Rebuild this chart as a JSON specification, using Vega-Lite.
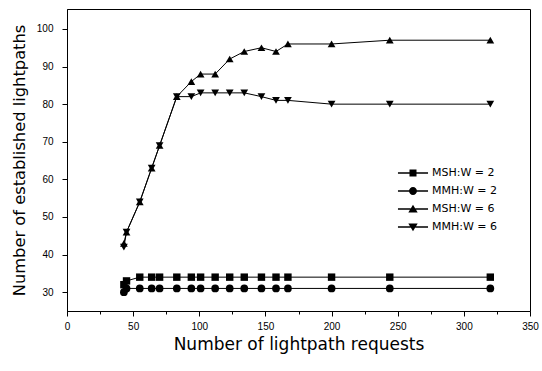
{
  "$schema": "https://vega.github.io/schema/vega-lite/v6.json",
  "width": 463,
  "height": 302,
  "autosize": {"type": "none"},
  "padding": {"left": 67, "top": 9, "right": 12, "bottom": 60},
  "background": "white",
  "config": {
    "view": {"stroke": "black", "strokeWidth": 1},
    "axis": {
      "domainColor": "black",
      "tickColor": "black",
      "labelColor": "black",
      "titleColor": "black",
      "grid": false,
      "labelFont": "Liberation Sans Narrow, Liberation Sans",
      "labelFontSize": 10,
      "titleFont": "DejaVu Sans",
      "titleFontSize": 16,
      "titleFontWeight": "normal"
    },
    "legend": {"labelFont": "DejaVu Sans", "labelFontSize": 11, "labelColor": "black"}
  },
  "data": {
    "values": [
      {"series": "MSH:W = 2", "x": 43, "y": 32}, {"series": "MSH:W = 2", "x": 45, "y": 33},
      {"series": "MSH:W = 2", "x": 55, "y": 34}, {"series": "MSH:W = 2", "x": 64, "y": 34},
      {"series": "MSH:W = 2", "x": 70, "y": 34}, {"series": "MSH:W = 2", "x": 83, "y": 34},
      {"series": "MSH:W = 2", "x": 94, "y": 34}, {"series": "MSH:W = 2", "x": 101, "y": 34},
      {"series": "MSH:W = 2", "x": 112, "y": 34}, {"series": "MSH:W = 2", "x": 123, "y": 34},
      {"series": "MSH:W = 2", "x": 134, "y": 34}, {"series": "MSH:W = 2", "x": 147, "y": 34},
      {"series": "MSH:W = 2", "x": 158, "y": 34}, {"series": "MSH:W = 2", "x": 167, "y": 34},
      {"series": "MSH:W = 2", "x": 200, "y": 34}, {"series": "MSH:W = 2", "x": 244, "y": 34},
      {"series": "MSH:W = 2", "x": 320, "y": 34},
      {"series": "MMH:W = 2", "x": 43, "y": 30}, {"series": "MMH:W = 2", "x": 45, "y": 31},
      {"series": "MMH:W = 2", "x": 55, "y": 31}, {"series": "MMH:W = 2", "x": 64, "y": 31},
      {"series": "MMH:W = 2", "x": 70, "y": 31}, {"series": "MMH:W = 2", "x": 83, "y": 31},
      {"series": "MMH:W = 2", "x": 94, "y": 31}, {"series": "MMH:W = 2", "x": 101, "y": 31},
      {"series": "MMH:W = 2", "x": 112, "y": 31}, {"series": "MMH:W = 2", "x": 123, "y": 31},
      {"series": "MMH:W = 2", "x": 134, "y": 31}, {"series": "MMH:W = 2", "x": 147, "y": 31},
      {"series": "MMH:W = 2", "x": 158, "y": 31}, {"series": "MMH:W = 2", "x": 167, "y": 31},
      {"series": "MMH:W = 2", "x": 200, "y": 31}, {"series": "MMH:W = 2", "x": 244, "y": 31},
      {"series": "MMH:W = 2", "x": 320, "y": 31},
      {"series": "MSH:W = 6", "x": 43, "y": 43}, {"series": "MSH:W = 6", "x": 45, "y": 46},
      {"series": "MSH:W = 6", "x": 55, "y": 54}, {"series": "MSH:W = 6", "x": 64, "y": 63},
      {"series": "MSH:W = 6", "x": 70, "y": 69}, {"series": "MSH:W = 6", "x": 83, "y": 82},
      {"series": "MSH:W = 6", "x": 94, "y": 86}, {"series": "MSH:W = 6", "x": 101, "y": 88},
      {"series": "MSH:W = 6", "x": 112, "y": 88}, {"series": "MSH:W = 6", "x": 123, "y": 92},
      {"series": "MSH:W = 6", "x": 134, "y": 94}, {"series": "MSH:W = 6", "x": 147, "y": 95},
      {"series": "MSH:W = 6", "x": 158, "y": 94}, {"series": "MSH:W = 6", "x": 167, "y": 96},
      {"series": "MSH:W = 6", "x": 200, "y": 96}, {"series": "MSH:W = 6", "x": 244, "y": 97},
      {"series": "MSH:W = 6", "x": 320, "y": 97},
      {"series": "MMH:W = 6", "x": 43, "y": 42}, {"series": "MMH:W = 6", "x": 45, "y": 46},
      {"series": "MMH:W = 6", "x": 55, "y": 54}, {"series": "MMH:W = 6", "x": 64, "y": 63},
      {"series": "MMH:W = 6", "x": 70, "y": 69}, {"series": "MMH:W = 6", "x": 83, "y": 82},
      {"series": "MMH:W = 6", "x": 94, "y": 82}, {"series": "MMH:W = 6", "x": 101, "y": 83},
      {"series": "MMH:W = 6", "x": 112, "y": 83}, {"series": "MMH:W = 6", "x": 123, "y": 83},
      {"series": "MMH:W = 6", "x": 134, "y": 83}, {"series": "MMH:W = 6", "x": 147, "y": 82},
      {"series": "MMH:W = 6", "x": 158, "y": 81}, {"series": "MMH:W = 6", "x": 167, "y": 81},
      {"series": "MMH:W = 6", "x": 200, "y": 80}, {"series": "MMH:W = 6", "x": 244, "y": 80},
      {"series": "MMH:W = 6", "x": 320, "y": 80}
    ]
  },
  "encoding": {
    "x": {
      "field": "x", "type": "quantitative",
      "scale": {"domain": [0, 350], "nice": false, "zero": false},
      "axis": {
        "title": "Number of lightpath requests",
        "titleFontSize": 17,
        "values": [0, 25, 50, 75, 100, 125, 150, 175, 200, 225, 250, 275, 300, 325, 350],
        "labelExpr": "datum.value % 50 === 0 ? datum.label : ''",
        "tickSize": {"condition": {"test": "datum.value % 50 === 0", "value": 5}, "value": 3},
        "labelPadding": 5,
        "titlePadding": 5,
        "labelFlush": false
      }
    },
    "y": {
      "field": "y", "type": "quantitative",
      "scale": {"domain": [25, 105.3], "nice": false, "zero": false}
    }
  },
  "layer": [
    {
      "mark": {"type": "line", "color": "black", "strokeWidth": 1},
      "encoding": {
        "detail": {"field": "series"},
        "y": {
          "field": "y", "type": "quantitative",
          "axis": {
            "title": "Number of established lightpaths",
            "titleFontSize": 16.3,
            "values": [30, 35, 40, 45, 50, 55, 60, 65, 70, 75, 80, 85, 90, 95, 100, 105],
            "labelExpr": "datum.value % 10 === 0 ? datum.label : ''",
            "tickSize": {"condition": {"test": "datum.value % 10 === 0", "value": 5}, "value": 3},
            "labelPadding": 9,
            "titlePadding": 9
          }
        }
      }
    },
    {
      "transform": [{"filter": "datum.series === 'MSH:W = 2'"}],
      "mark": {"type": "point", "shape": "square", "filled": true, "color": "black", "opacity": 1, "size": 55}
    },
    {
      "transform": [{"filter": "datum.series === 'MMH:W = 2'"}],
      "mark": {"type": "point", "shape": "circle", "filled": true, "color": "black", "opacity": 1, "size": 60}
    },
    {
      "transform": [{"filter": "datum.series === 'MSH:W = 6'"}],
      "mark": {"type": "point", "shape": "triangle-up", "filled": true, "color": "black", "opacity": 1, "size": 60}
    },
    {
      "transform": [{"filter": "datum.series === 'MMH:W = 6'"}],
      "mark": {"type": "point", "shape": "triangle-down", "filled": true, "color": "black", "opacity": 1, "size": 60}
    },
    {
      "mark": {"type": "point", "filled": true, "color": "black", "opacity": 0, "size": 324},
      "encoding": {
        "shape": {
          "field": "series", "type": "nominal",
          "scale": {
            "domain": ["MSH:W = 2", "MMH:W = 2", "MSH:W = 6", "MMH:W = 6"],
            "range": [
              "M-1.67,-0.07H-0.39V0.07H-1.67Z M0.39,-0.07H1.67V0.07H0.39Z M-0.39,-0.39H0.39V0.39H-0.39Z",
              "M-1.67,-0.07H-0.43V0.07H-1.67Z M0.43,-0.07H1.67V0.07H0.43Z M0.44,0A0.44,0.44,0,1,1,-0.44,0A0.44,0.44,0,1,1,0.44,0Z",
              "M-1.67,-0.07H-0.26V0.07H-1.67Z M0.26,-0.07H1.67V0.07H0.26Z M0,-0.47L0.52,0.4H-0.52Z",
              "M-1.67,-0.07H-0.26V0.07H-1.67Z M0.26,-0.07H1.67V0.07H0.26Z M0,0.47L-0.52,-0.4H0.52Z"
            ]
          },
          "legend": {
            "title": null,
            "orient": "none",
            "legendX": 336,
            "legendY": 154,
            "symbolSize": 324,
            "symbolOpacity": 1,
            "symbolFillColor": "black",
            "labelOffset": 9,
            "rowPadding": 1
          }
        }
      }
    }
  ]
}
